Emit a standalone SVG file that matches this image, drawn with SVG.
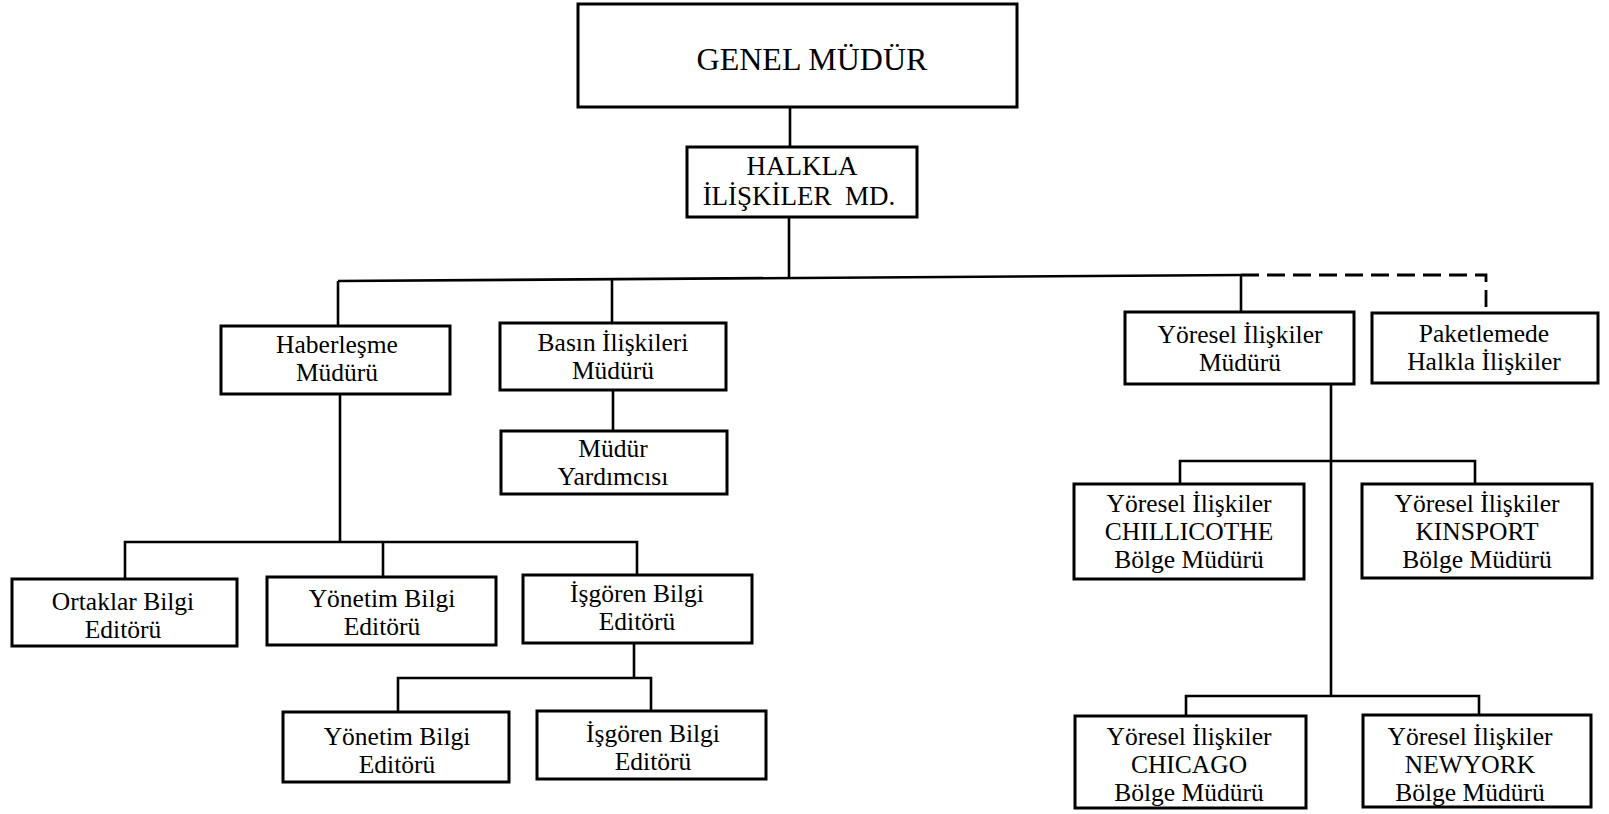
<svg xmlns="http://www.w3.org/2000/svg" width="1609" height="814" viewBox="0 0 1609 814">
  <style>
    .box { fill: #fff; stroke: #000; stroke-width: 3; }
    .ln { fill: none; stroke: #000; stroke-width: 2.6; }
    .dash { fill: none; stroke: #000; stroke-width: 2.8; stroke-dasharray: 18 8; }
    text { font-family: "Liberation Serif", "Times New Roman", serif; font-size: 25.5px; fill: #000; text-anchor: middle; }
    .big { font-size: 32px; }
    .mid { font-size: 27px; }
  </style>
  <rect width="1609" height="814" fill="#fff"/>

  <!-- connectors -->
  <g id="connectors">
    <path class="ln" d="M790 107 V147"/>
    <path class="ln" d="M789 217 V277"/>
    <path class="ln" d="M338 281 L1241 275"/>
    <path class="ln" d="M338 281 V326"/>
    <path class="ln" d="M612 279 V323"/>
    <path class="ln" d="M1241 275 V312"/>
    <path class="dash" d="M1241 275 H1486 V307"/>
    <path class="ln" d="M613 390 V431"/>
    <path class="ln" d="M340 394 V542"/>
    <path class="ln" d="M125 579 V542 H637 V575"/>
    <path class="ln" d="M383 542 V577"/>
    <path class="ln" d="M634 643 V678"/>
    <path class="ln" d="M398 712 V678 H651 V711"/>
    <path class="ln" d="M1331 384 V696"/>
    <path class="ln" d="M1180 484 V461 H1475 V484"/>
    <path class="ln" d="M1186 716 V696 H1479 V715"/>
    <path fill="none" stroke="#000" stroke-width="1.4" d="M704 617 L720 639"/>
  </g>

  <g id="genel-mudur">
    <rect class="box" x="578" y="4" width="439" height="103"/>
    <text class="big" x="812" y="70">GENEL MÜDÜR</text>
  </g>

  <g id="halkla-iliskiler-md">
    <rect class="box" x="687" y="147" width="230" height="70"/>
    <text class="mid" x="802" y="175">HALKLA</text>
    <text class="mid" x="799" y="205">İLİŞKİLER&#160; MD.</text>
  </g>

  <g id="haberlesme-muduru">
    <rect class="box" x="221" y="326" width="229" height="68"/>
    <text x="337" y="353">Haberleşme</text>
    <text x="337" y="381">Müdürü</text>
  </g>

  <g id="basin-iliskileri-muduru">
    <rect class="box" x="500" y="323" width="226" height="67"/>
    <text x="613" y="351">Basın İlişkileri</text>
    <text x="613" y="379">Müdürü</text>
  </g>

  <g id="mudur-yardimcisi">
    <rect class="box" x="501" y="431" width="226" height="63"/>
    <text x="613" y="457">Müdür</text>
    <text x="613" y="485">Yardımcısı</text>
  </g>

  <g id="ortaklar-bilgi-editoru">
    <rect class="box" x="12" y="579" width="225" height="67"/>
    <text x="123" y="610">Ortaklar Bilgi</text>
    <text x="123" y="638">Editörü</text>
  </g>

  <g id="yonetim-bilgi-editoru-1">
    <rect class="box" x="267" y="577" width="229" height="68"/>
    <text x="382" y="607">Yönetim Bilgi</text>
    <text x="382" y="635">Editörü</text>
  </g>

  <g id="isgoren-bilgi-editoru-1">
    <rect class="box" x="523" y="575" width="229" height="68"/>
    <text x="637" y="602">İşgören Bilgi</text>
    <text x="637" y="630">Editörü</text>
  </g>

  <g id="yonetim-bilgi-editoru-2">
    <rect class="box" x="283" y="712" width="226" height="70"/>
    <text x="397" y="745">Yönetim Bilgi</text>
    <text x="397" y="773">Editörü</text>
  </g>

  <g id="isgoren-bilgi-editoru-2">
    <rect class="box" x="537" y="711" width="229" height="68"/>
    <text x="653" y="742">İşgören Bilgi</text>
    <text x="653" y="770">Editörü</text>
  </g>

  <g id="yoresel-iliskiler-muduru">
    <rect class="box" x="1125" y="312" width="229" height="72"/>
    <text x="1240" y="343">Yöresel İlişkiler</text>
    <text x="1240" y="371">Müdürü</text>
  </g>

  <g id="paketlemede-halkla-iliskiler">
    <rect class="box" x="1372" y="313" width="226" height="70"/>
    <text x="1484" y="342">Paketlemede</text>
    <text x="1484" y="370">Halkla İlişkiler</text>
  </g>

  <g id="chillicothe">
    <rect class="box" x="1074" y="484" width="230" height="95"/>
    <text x="1189" y="512">Yöresel İlişkiler</text>
    <text x="1189" y="540">CHILLICOTHE</text>
    <text x="1189" y="568">Bölge Müdürü</text>
  </g>

  <g id="kinsport">
    <rect class="box" x="1362" y="484" width="230" height="94"/>
    <text x="1477" y="512">Yöresel İlişkiler</text>
    <text x="1477" y="540">KINSPORT</text>
    <text x="1477" y="568">Bölge Müdürü</text>
  </g>

  <g id="chicago">
    <rect class="box" x="1075" y="716" width="231" height="92"/>
    <text x="1189" y="745">Yöresel İlişkiler</text>
    <text x="1189" y="773">CHICAGO</text>
    <text x="1189" y="801">Bölge Müdürü</text>
  </g>

  <g id="newyork">
    <rect class="box" x="1363" y="715" width="228" height="92"/>
    <text x="1470" y="745">Yöresel İlişkiler</text>
    <text x="1470" y="773">NEWYORK</text>
    <text x="1470" y="801">Bölge Müdürü</text>
  </g>
</svg>
